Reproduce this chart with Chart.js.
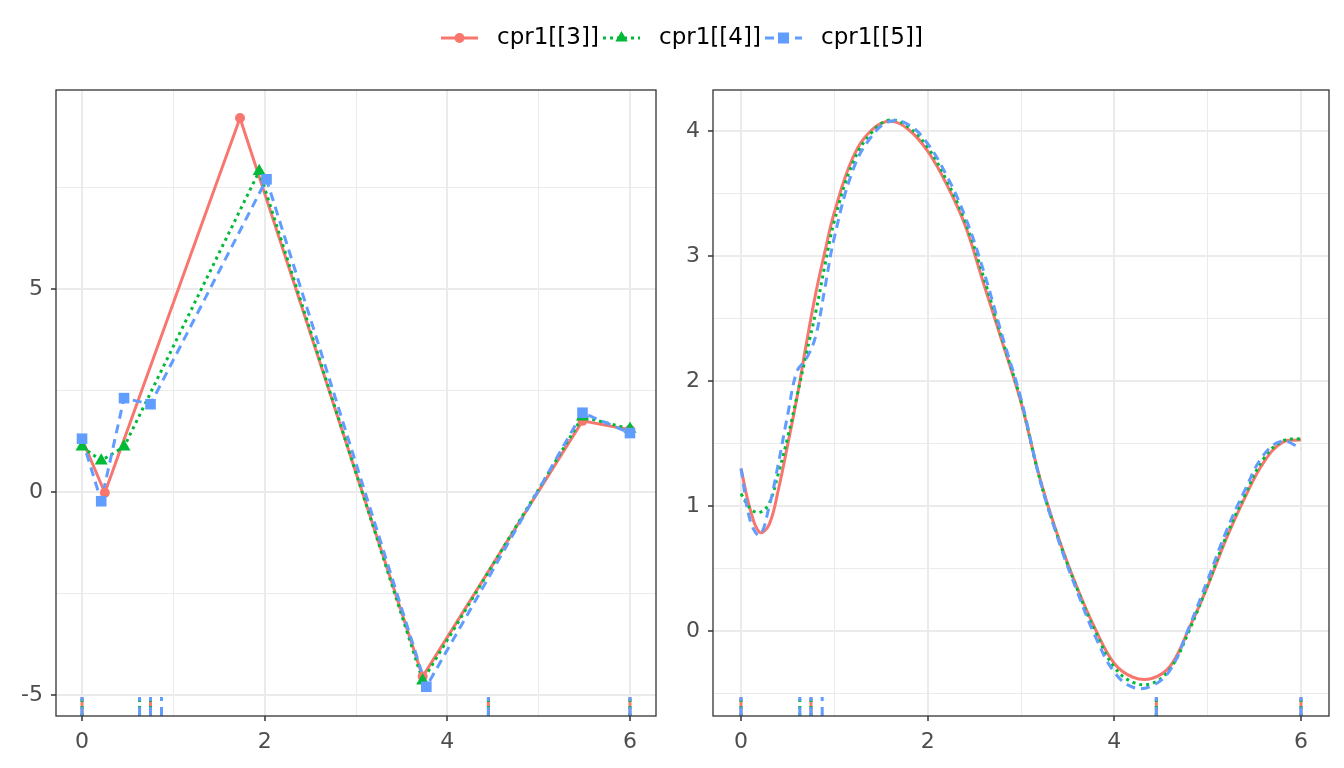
<!DOCTYPE html>
<html>
<head>
<meta charset="utf-8">
<script src="https://cdn.jsdelivr.net/npm/chart.js@4"></script>
<style>
  body { margin: 0; background: #fff; width: 1344px; height: 768px; overflow: hidden; position: relative; font-family: "DejaVu Sans", sans-serif; }
  canvas { position: absolute; top: 0; }
  #leftChart { left: 0; }
  #rightChart { left: 670px; }
  .key { position: absolute; top: 28px; }
  .lab { position: absolute; top: 23px; font-size: 23px; color: #000; white-space: nowrap; }
</style>
</head>
<body>
<canvas id="leftChart" width="670" height="768"></canvas>
<canvas id="rightChart" width="674" height="768"></canvas>
<div id="legend"></div>
<script>
// series names and styles
const seriesNames = ['cpr1[[3]]', 'cpr1[[4]]', 'cpr1[[5]]'];
const seriesColors = ['#F8766D', '#00BA38', '#619CFF'];
const seriesDash = [[], [3, 4], [9, 6]];
const seriesPoint = ['circle', 'triangle', 'rect'];

// control polygons (left panel)
const ctrlX3 = [0, 0.25, 1.73, 3.73, 5.48, 6];
const ctrlY3 = [1.30, -0.02, 9.21, -4.55, 1.75, 1.53];
const ctrlX4 = [0, 0.21, 0.46, 1.94, 3.73, 5.48, 6];
const ctrlY4 = [1.11, 0.77, 1.11, 7.90, -4.65, 1.85, 1.55];
const ctrlX5 = [0, 0.21, 0.46, 0.75, 2.02, 3.77, 5.48, 6];
const ctrlY5 = [1.31, -0.23, 2.31, 2.16, 7.70, -4.80, 1.95, 1.45];

// fitted curves (right panel)
const curveX = [0, 0.1, 0.2, 0.3, 0.4, 0.5, 0.6, 0.7, 0.8, 0.9, 1.0, 1.2, 1.4, 1.6, 1.8, 2.0, 2.2, 2.4, 2.6, 2.8,
                3.0, 3.2, 3.4, 3.6, 3.8, 4.0, 4.2, 4.4, 4.6, 4.8, 5.0, 5.2, 5.4, 5.6, 5.8, 6.0];
const curveY3 = [1.30, 0.97, 0.79, 0.85, 1.13, 1.49, 1.87, 2.30, 2.70, 3.04, 3.35, 3.79, 4.01, 4.08, 4.01, 3.84, 3.58, 3.25, 2.78, 2.31,
                 1.83, 1.23, 0.75, 0.35, 0.01, -0.26, -0.37, -0.38, -0.28, 0.02, 0.36, 0.74, 1.07, 1.35, 1.51, 1.53];
const curveY4 = [1.10, 0.98, 0.95, 1.02, 1.26, 1.55, 1.88, 2.22, 2.55, 2.93, 3.28, 3.75, 3.99, 4.09, 4.03, 3.87, 3.61, 3.28, 2.83, 2.33,
                 1.84, 1.22, 0.74, 0.34, -0.01, -0.29, -0.41, -0.42, -0.30, 0.00, 0.37, 0.76, 1.09, 1.38, 1.52, 1.54];
const curveY5 = [1.30, 0.88, 0.77, 0.99, 1.34, 1.73, 2.08, 2.18, 2.36, 2.75, 3.15, 3.69, 3.96, 4.08, 4.05, 3.90, 3.65, 3.32, 2.88, 2.36,
                 1.86, 1.22, 0.73, 0.32, -0.05, -0.33, -0.45, -0.44, -0.31, 0.03, 0.41, 0.80, 1.13, 1.41, 1.52, 1.46];

// knots shown as rug
const knots3 = [0, 0.75, 4.45, 6];
const knots4 = [0, 0.63, 0.75, 4.45, 6];
const knots5 = [0, 0.63, 0.75, 0.87, 4.45, 6];

// axis ticks
const xTicks = [0, 1, 2, 3, 4, 5, 6];
const xMajor = [0, 2, 4, 6];
const leftYTicks = [-5, -2.5, 0, 2.5, 5, 7.5];
const leftYMajor = [-5, 0, 5];
const rightYTicks = [-0.5, 0, 0.5, 1, 1.5, 2, 2.5, 3, 3.5, 4];
const rightYMajor = [0, 1, 2, 3, 4];

Chart.defaults.font.family = '"DejaVu Sans", sans-serif';

function zip(xs, ys) {
  return xs.map((x, i) => ({ x: x, y: ys[i] }));
}

function gridOpts(major) {
  return {
    color: '#EBEBEB',
    lineWidth: c => major.includes(c.tick.value) ? 2 : 1,
    tickColor: c => major.includes(c.tick.value) ? '#333333' : 'rgba(0,0,0,0)',
    tickLength: 5,
    tickWidth: 1.5,
    drawTicks: true
  };
}

function axisOpts(min, max, vals, major, isX, size) {
  return {
    type: 'linear',
    min: min,
    max: max,
    afterBuildTicks: ax => { ax.ticks = vals.map(v => ({ value: v })); },
    afterFit: s => { if (isX) s.height = size; else s.width = size; },
    ticks: {
      autoSkip: false,
      maxRotation: 0,
      color: '#4D4D4D',
      font: { size: 22 },
      padding: isX ? 8 : 8,
      callback: v => major.includes(v) ? String(v) : ''
    },
    grid: gridOpts(major),
    border: { display: false }
  };
}

// rug + panel border
const panelExtras = {
  id: 'panelExtras',
  afterDatasetsDraw(chart, args, opts) {
    const ctx = chart.ctx, a = chart.chartArea, xs = chart.scales.x;
    opts.rugs.forEach(r => {
      ctx.save();
      ctx.strokeStyle = r.color;
      ctx.lineWidth = 3;
      ctx.setLineDash(r.dash);
      r.knots.forEach(k => {
        const px = xs.getPixelForValue(k);
        ctx.beginPath();
        ctx.moveTo(px, a.bottom);
        ctx.lineTo(px, a.bottom - 19);
        ctx.stroke();
      });
      ctx.restore();
    });
    ctx.save();
    ctx.strokeStyle = '#333333';
    ctx.lineWidth = 1.3;
    ctx.strokeRect(a.left, a.top, a.right - a.left, a.bottom - a.top);
    ctx.restore();
  }
};

const rugs = [knots3, knots4, knots5].map((k, i) => ({ knots: k, color: seriesColors[i], dash: seriesDash[i] }));

// left panel: control polygons
const ctrl = [zip(ctrlX3, ctrlY3), zip(ctrlX4, ctrlY4), zip(ctrlX5, ctrlY5)];
const leftSets = [];
ctrl.forEach((d, i) => {
  leftSets.push({
    data: d, borderColor: seriesColors[i], borderWidth: 3, borderDash: seriesDash[i],
    pointRadius: 0, tension: 0, order: 6 - i
  });
});
ctrl.forEach((d, i) => {
  leftSets.push({
    data: d, showLine: false, pointStyle: seriesPoint[i],
    pointRadius: [5, 7.5, 7.5][i], pointBackgroundColor: seriesColors[i],
    pointBorderColor: seriesColors[i], pointBorderWidth: 0, order: 3 - i
  });
});

new Chart(document.getElementById('leftChart'), {
  type: 'line',
  data: { datasets: leftSets },
  options: {
    responsive: false, animation: false,
    layout: { padding: { top: 90, right: 14, left: 0, bottom: 0 } },
    plugins: { legend: { display: false }, tooltip: { enabled: false }, panelExtras: { rugs: rugs } },
    scales: {
      x: axisOpts(-0.285, 6.285, xTicks, xMajor, true, 52),
      y: axisOpts(-5.52, 9.90, leftYTicks, leftYMajor, false, 56)
    }
  },
  plugins: [panelExtras]
});

// right panel: fitted curves
const curves = [curveY3, curveY4, curveY5].map(ys => zip(curveX, ys));
new Chart(document.getElementById('rightChart'), {
  type: 'line',
  data: {
    datasets: curves.map((d, i) => ({
      data: d, borderColor: seriesColors[i], borderWidth: 3, borderDash: seriesDash[i],
      pointRadius: 0, tension: 0.4, order: 3 - i
    }))
  },
  options: {
    responsive: false, animation: false,
    layout: { padding: { top: 90, right: 15, left: 0, bottom: 0 } },
    plugins: { legend: { display: false }, tooltip: { enabled: false }, panelExtras: { rugs: rugs } },
    scales: {
      x: axisOpts(-0.3, 6.3, xTicks, xMajor, true, 52),
      y: axisOpts(-0.68, 4.33, rightYTicks, rightYMajor, false, 43)
    }
  },
  plugins: [panelExtras]
});

// legend (html text, svg keys)
const keyLeft = [441, 603, 765];
const labLeft = [497, 659, 821];
const legend = document.getElementById('legend');
seriesNames.forEach((name, i) => {
  const c = seriesColors[i];
  let mark = '';
  if (seriesPoint[i] === 'circle') mark = `<circle cx="18.5" cy="10" r="5" fill="${c}"/>`;
  if (seriesPoint[i] === 'triangle') mark = `<polygon points="18.5,3 24.7,13.5 12.3,13.5" fill="${c}"/>`;
  if (seriesPoint[i] === 'rect') mark = `<rect x="13" y="4.5" width="11" height="11" fill="${c}"/>`;
  const dash = seriesDash[i].length ? `stroke-dasharray="${seriesDash[i].join(' ')}"` : '';
  const key = document.createElement('div');
  key.className = 'key';
  key.style.left = keyLeft[i] + 'px';
  key.innerHTML = `<svg width="37" height="20"><line x1="0" y1="10" x2="37" y2="10" stroke="${c}" stroke-width="3" ${dash}/>${mark}</svg>`;
  legend.appendChild(key);
  const lab = document.createElement('div');
  lab.className = 'lab';
  lab.style.left = labLeft[i] + 'px';
  lab.textContent = name;
  legend.appendChild(lab);
});
</script>
</body>
</html>
